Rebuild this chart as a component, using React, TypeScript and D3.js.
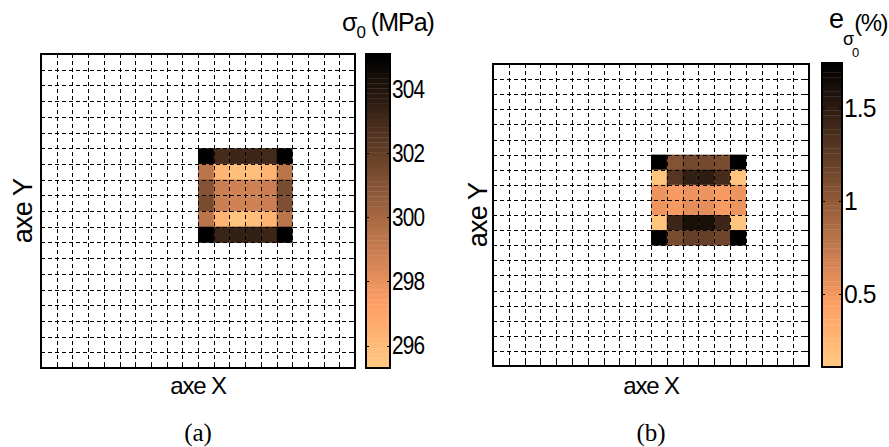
import React from 'react';
import * as d3 from 'd3';

// ---------- data ----------
const gridCount = 20;
const blockCol = 10;
const blockRow = 6;

// σ0 (MPa), 6x6 block (rows top→bottom)
const sigmaValues: number[][] = [
  [305.1, 302.9, 303.2, 303.2, 303.0, 305.1],
  [299.4, 296.3, 295.8, 295.8, 296.3, 299.4],
  [301.1, 298.9, 298.7, 298.7, 298.9, 301.4],
  [301.4, 298.9, 298.7, 298.7, 298.9, 301.2],
  [299.4, 296.3, 295.6, 295.8, 296.3, 299.4],
  [305.1, 303.3, 303.5, 303.5, 303.2, 305.1],
];

// e_σ0 (%), 6x6 block
const errorValues: number[][] = [
  [1.74, 1.07, 1.15, 1.15, 1.12, 1.74],
  [0.14, 1.30, 1.46, 1.51, 1.38, 0.14],
  [0.52, 0.47, 0.52, 0.53, 0.49, 0.52],
  [0.52, 0.47, 0.57, 0.58, 0.49, 0.52],
  [0.14, 1.41, 1.61, 1.61, 1.43, 0.14],
  [1.74, 1.12, 1.23, 1.23, 1.17, 1.74],
];

const sigmaTicks = [296, 298, 300, 302, 304];
const errorTicks = [0.5, 1, 1.5];
const sigmaDomain: [number, number] = [295.3, 305.1];
const errorDomain: [number, number] = [0.11, 1.74];
const xLabel = 'axe X';
const yLabel = 'axe Y';
const panelLabels = ['(a)', '(b)'];

// ---------- colormap (reversed MATLAB copper, 64 levels) ----------
const N_LEVELS = 64;
function copperLevel(k: number): string {
  const x = 1 - k / (N_LEVELS - 1);
  return d3.rgb(Math.min(1, 1.25 * x) * 255, 0.7812 * x * 255, 0.4975 * x * 255).toString();
}
function colorFor(v: number, domain: [number, number]): string {
  const t = (v - domain[0]) / (domain[1] - domain[0]);
  const k = Math.max(0, Math.min(N_LEVELS - 1, Math.floor(t * N_LEVELS)));
  return copperLevel(k);
}

const FONT = '"Liberation Sans", Arial, Helvetica, sans-serif';
const SERIF = '"Liberation Serif", "Times New Roman", serif';

type Geo = { x: number; y: number; w: number; h: number };
const px = (v: number) => Math.round(v) + 0.5;

function Panel(props: {
  plot: Geo;
  cb: Geo;
  values: number[][];
  domain: [number, number];
  ticks: number[];
  tickScaleX: number;
  yLabelX: number;
  panelLabel: string;
}) {
  const { plot, cb, values, domain, ticks, tickScaleX, yLabelX, panelLabel } = props;
  const xs = d3.scaleLinear().domain([0, gridCount]).range([plot.x, plot.x + plot.w]);
  const ys = d3.scaleLinear().domain([0, gridCount]).range([plot.y, plot.y + plot.h]);
  const cs = d3.scaleLinear().domain(domain).range([cb.y + cb.h, cb.y]);
  const idx = d3.range(1, gridCount);
  const levels = d3.range(N_LEVELS);
  const span = domain[1] - domain[0];
  const tk = 4;
  return (
    <g>
      {/* cells */}
      {values.map((row, r) =>
        row.map((v, c) => (
          <rect
            key={`c${r}-${c}`}
            x={xs(blockCol + c)}
            y={ys(blockRow + r)}
            width={xs(1) - xs(0) + 0.4}
            height={ys(1) - ys(0) + 0.4}
            fill={colorFor(v, domain)}
          />
        ))
      )}
      {/* dashed grid */}
      {idx.map((i) => (
        <line key={`gv${i}`} x1={px(xs(i))} x2={px(xs(i))} y1={plot.y} y2={plot.y + plot.h}
          stroke="#000" strokeWidth={1} strokeDasharray="4,3" />
      ))}
      {idx.map((i) => (
        <line key={`gh${i}`} y1={px(ys(i))} y2={px(ys(i))} x1={plot.x} x2={plot.x + plot.w}
          stroke="#000" strokeWidth={1} strokeDasharray="4,3" />
      ))}
      {/* ticks all sides */}
      {idx.map((i) => (
        <g key={`t${i}`} stroke="#000" strokeWidth={1}>
          <line x1={px(xs(i))} x2={px(xs(i))} y1={plot.y + plot.h} y2={plot.y + plot.h - tk} />
          <line x1={px(xs(i))} x2={px(xs(i))} y1={plot.y} y2={plot.y + tk} />
          <line y1={px(ys(i))} y2={px(ys(i))} x1={plot.x} x2={plot.x + tk} />
          <line y1={px(ys(i))} y2={px(ys(i))} x1={plot.x + plot.w} x2={plot.x + plot.w - tk} />
        </g>
      ))}
      <rect x={plot.x} y={plot.y} width={plot.w} height={plot.h} fill="none" stroke="#000" strokeWidth={2} />
      {/* colorbar */}
      {levels.map((k) => {
        const lo = domain[0] + (k / N_LEVELS) * span;
        const hi = domain[0] + ((k + 1) / N_LEVELS) * span;
        return (
          <rect key={`cb${k}`} x={cb.x} y={cs(hi)} width={cb.w} height={cs(lo) - cs(hi) + 0.3}
            fill={copperLevel(k)} />
        );
      })}
      {ticks.map((t) => (
        <g key={`ct${t}`} stroke="#000" strokeWidth={1}>
          <line x1={cb.x} x2={cb.x + 3} y1={px(cs(t))} y2={px(cs(t))} />
          <line x1={cb.x + cb.w - 3} x2={cb.x + cb.w} y1={px(cs(t))} y2={px(cs(t))} />
        </g>
      ))}
      <rect x={cb.x} y={cb.y} width={cb.w} height={cb.h} fill="none" stroke="#000" strokeWidth={2} />
      {ticks.map((t) => (
        <text key={`cl${t}`} transform={`translate(${cb.x + cb.w + 2},${cs(t)}) scale(${tickScaleX},1)`}
          dominantBaseline="central" fontFamily={FONT} fontSize={26} letterSpacing={-1}>
          {String(t)}
        </text>
      ))}
      {/* axis labels */}
      <text x={plot.x + plot.w / 2} y={394} textAnchor="middle" fontFamily={FONT} fontSize={24} letterSpacing={-1.2}>
        {xLabel}
      </text>
      <text transform={`translate(${yLabelX},${plot.y + plot.h / 2}) rotate(-90)`} textAnchor="middle"
        fontFamily={FONT} fontSize={27} letterSpacing={-0.8}>
        {yLabel}
      </text>
      <text x={plot.x + plot.w / 2} y={441} textAnchor="middle" fontFamily={SERIF} fontSize={25}>
        {panelLabel}
      </text>
    </g>
  );
}

export default function App() {
  return (
    <svg width={889} height={447} style={{ position: 'absolute', left: 0, top: 0, background: '#fff' }}>
      <rect width={889} height={447} fill="#fff" />
      <Panel
        plot={{ x: 41, y: 54, w: 314, h: 314 }}
        cb={{ x: 366, y: 54, w: 24, h: 314 }}
        values={sigmaValues}
        domain={sigmaDomain}
        ticks={sigmaTicks}
        tickScaleX={0.8}
        yLabelX={32}
        panelLabel={panelLabels[0]}
      />
      <Panel
        plot={{ x: 493, y: 64, w: 316, h: 302 }}
        cb={{ x: 822, y: 63, w: 20, h: 304 }}
        values={errorValues}
        domain={errorDomain}
        ticks={errorTicks}
        tickScaleX={0.95}
        yLabelX={487}
        panelLabel={panelLabels[1]}
      />
      {/* colorbar titles */}
      <text x={342} y={31} fontFamily={FONT} fontSize={25} letterSpacing={-1}>
        σ<tspan fontSize={17} dy={7}>0</tspan>
        <tspan dy={-7}> (MPa)</tspan>
      </text>
      <text x={829} y={28} fontFamily={FONT} fontSize={27}>e</text>
      <text x={843} y={45} fontFamily={FONT} fontSize={18}>σ</text>
      <text x={852} y={57} fontFamily={FONT} fontSize={13}>0</text>
      <text x={887} y={31} textAnchor="end" fontFamily={FONT} fontSize={24} letterSpacing={-1.5}>(%)</text>
    </svg>
  );
}
